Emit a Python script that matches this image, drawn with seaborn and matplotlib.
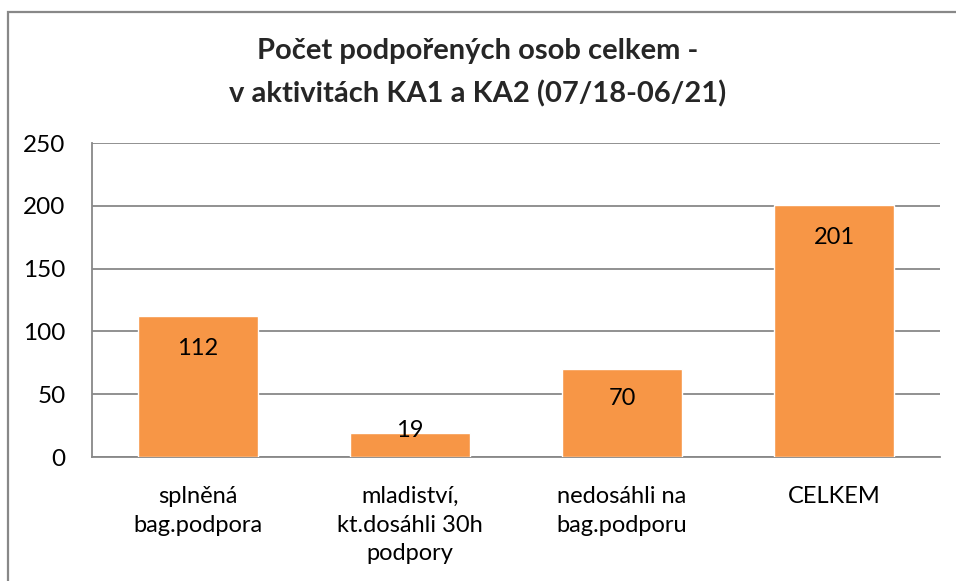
import matplotlib
matplotlib.use("Agg")
import matplotlib.pyplot as plt
import matplotlib.patches as mpatches
import seaborn as sns
import pandas as pd

categories = ["splněná\nbag.podpora", "mladiství,\nkt.dosáhli 30h\npodpory",
              "nedosáhli na\nbag.podporu", "CELKEM"]
values = [112, 19, 70, 201]
title = "Počet podpořených osob celkem -\nv aktivitách KA1 a KA2 (07/18-06/21)"
yticks = [0, 50, 100, 150, 200, 250]

# label vertical offsets (points) relative to bar top
label_offsets = [-23, 2, -21, -24]

sns.set_theme(style="white")
plt.rcParams['font.family'] = ['Lato', 'DejaVu Sans']

df = pd.DataFrame({"cat": categories, "val": values})

fig = plt.figure(figsize=(9.56, 5.81), dpi=100)
ax = fig.add_axes([92/956, 1-457/581, (940-92)/956, (457-143)/581])

sns.barplot(data=df, x="cat", y="val", color="#F79646", saturation=1,
            width=0.57, ax=ax, zorder=3)

ax.set_ylim(0, 250)
ax.set_yticks(yticks)
ax.set_xlim(-0.5, 3.5)
ax.yaxis.grid(True, color="#888888", linewidth=1.3, zorder=0)
ax.set_axisbelow(True)
for s in ["top", "right"]:
    ax.spines[s].set_visible(False)
for s in ["left", "bottom"]:
    ax.spines[s].set_color("#888888")
    ax.spines[s].set_linewidth(1.3)
ax.set_xlabel("")
ax.set_ylabel("")
ax.tick_params(axis="y", labelsize=17.5, colors="black", length=0, pad=19)
ax.tick_params(axis="x", labelsize=17, colors="black", length=0, pad=21)
for lbl in ax.get_xticklabels():
    lbl.set_linespacing(1.45)
    lbl.set_horizontalalignment("center")

for i, (v, off) in enumerate(zip(values, label_offsets)):
    ax.annotate(str(v), (i, v), xytext=(0, off), textcoords="offset points",
                ha="center", va="center", fontsize=17, color="black", zorder=5)

fig.text(0.5, 1 - 73/581, title, ha="center", va="center", fontsize=21,
         fontweight="bold", linespacing=1.75)

rect = mpatches.Rectangle((8/956, -0.2), 1.5, 1.2 - 12/581, transform=fig.transFigure,
                          fill=False, edgecolor="#888888", linewidth=1.6)
fig.patches.append(rect)

fig.savefig("out.png", dpi=100)
